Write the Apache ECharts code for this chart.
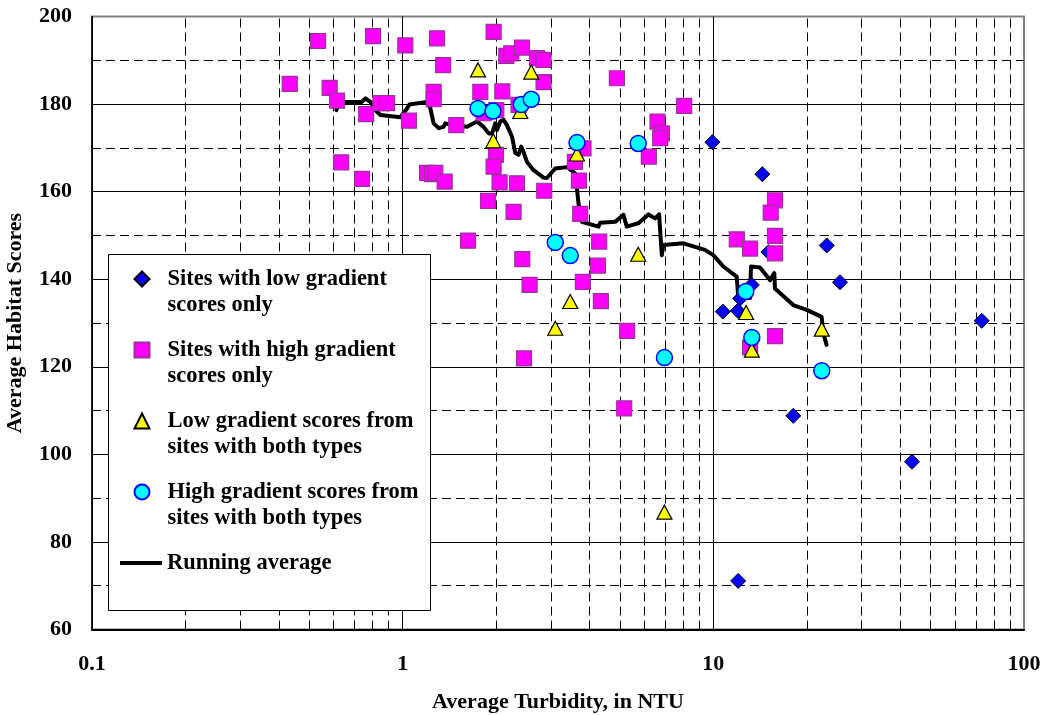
<!DOCTYPE html>
<html>
<head>
<meta charset="utf-8">
<script src="https://cdn.jsdelivr.net/npm/echarts@6/dist/echarts.min.js"></script>
<style>html,body{margin:0;padding:0;background:#fff}#c{width:1047px;height:715px}</style>
</head>
<body>
<div id="c"></div>
<script>
// ---- data ----
const seriesNames = [
  'Sites with low gradient scores only',
  'Sites with high gradient scores only',
  'Low gradient scores from sites with both types',
  'High gradient scores from sites with both types',
  'Running average'
];
const legendLines = [
  ['Sites with low gradient', 'scores only'],
  ['Sites with high gradient', 'scores only'],
  ['Low gradient scores from', 'sites with both types'],
  ['High gradient scores from', 'sites with both types'],
  ['Running average']
];

const lowOnlyX = [9.93, 14.38, 15.04, 23.18, 25.57, 13.3, 12.2, 10.73, 11.99, 73.1, 18.09, 43.6, 12.02];
const lowOnlyY = [171.3, 164.0, 146.2, 147.7, 139.3, 138.7, 135.6, 132.6, 132.8, 130.5, 108.8, 98.3, 71.1];

const highOnlyX = [0.534, 0.803, 1.02, 1.29, 1.35, 0.433, 0.582, 0.615, 0.763, 0.848, 0.891, 1.048, 1.258, 1.258,
  0.634, 0.740, 1.198, 1.243, 1.274, 1.365, 1.962, 2.156, 2.237, 2.421, 2.706, 2.841, 2.841, 4.893, 1.778, 2.093,
  1.488, 2.002, 1.822, 2.361, 8.057, 6.61, 6.83, 6.745, 6.20, 3.82, 3.585, 1.997, 1.962, 2.051, 2.333, 2.856, 3.693,
  1.883, 2.275, 3.729, 1.623, 4.292, 2.427, 4.25, 2.562, 3.803, 4.346, 5.28, 2.458, 5.166, 15.8, 15.3, 15.8, 11.9,
  13.13, 15.8, 15.8, 13.13];
const highOnlyY = [194.4, 195.5, 193.4, 195.0, 188.9, 184.6, 183.7, 180.8, 177.7, 180.2, 180.2, 176.2, 182.8, 181.1,
  166.7, 162.9, 164.3, 164.0, 164.3, 162.3, 196.5, 191.0, 191.6, 192.9, 190.5, 190.1, 185.0, 185.9, 182.8, 182.9,
  175.2, 178.6, 177.9, 179.8, 179.6, 176.0, 173.3, 172.2, 168.0, 169.9, 166.8, 168.4, 165.7, 162.1, 161.9, 160.2, 162.5,
  157.9, 155.4, 154.9, 148.8, 148.6, 144.6, 143.1, 138.7, 139.4, 135.0, 128.2, 121.9, 110.5, 158.0, 155.2, 149.9, 149.1,
  147.0, 145.9, 127.0, 124.4];

const bothLowX = [1.748, 2.594, 1.957, 2.391, 3.64, 5.73, 3.463, 3.099, 6.96, 12.75, 22.34, 13.3];
const bothLowY = [187.8, 187.3, 171.6, 178.3, 168.6, 145.7, 134.9, 128.8, 86.8, 132.4, 128.6, 123.8];

const bothHighX = [1.748, 1.953, 2.409, 2.594, 3.64, 5.73, 3.099, 3.463, 6.96, 12.72, 13.3, 22.34];
const bothHighY = [179.0, 178.4, 179.9, 181.1, 171.2, 171.0, 148.4, 145.4, 122.1, 137.2, 126.7, 119.1];

const runX = [0.612, 0.6235, 0.737, 0.759, 0.787, 0.823, 0.848, 0.983, 1.033, 1.051, 1.198, 1.228, 1.258, 1.306,
  1.354, 1.372, 1.441, 1.611, 1.735, 1.822, 1.891, 1.939, 1.987, 2.012, 2.062, 2.113, 2.166, 2.248, 2.304, 2.360,
  2.408, 2.449, 2.512, 2.638, 2.841, 2.913, 3.097, 3.378, 3.592, 3.638, 3.681, 3.775, 4.268, 4.322, 4.83, 5.135,
  5.266, 5.741, 6.18, 6.495, 6.69, 6.826, 6.907, 8.01, 9.40, 10.0, 10.77, 11.89, 12.03, 13.12, 13.22, 14.13, 15.22,
  15.71, 15.79, 18.08, 19.97, 22.32, 22.58, 23.15];
const runY = [178.6, 180.5, 180.5, 181.3, 180.5, 178.4, 177.5, 177.0, 179.0, 179.9, 180.5, 179.0, 175.6, 174.5,
  174.8, 175.6, 175.2, 174.8, 176.0, 174.8, 173.3, 173.3, 175.6, 174.1, 176.0, 176.4, 175.2, 172.6, 168.8, 168.4,
  170.3, 169.1, 166.8, 164.9, 163.2, 163.1, 165.3, 165.6, 164.2, 160.8, 157.3, 153.1, 152.0, 152.9, 153.1, 154.7,
  152.0, 152.8, 154.8, 153.9, 154.8, 145.5, 147.8, 148.2, 146.7, 145.5, 142.9, 140.6, 135.9, 135.7, 142.9, 142.7, 139.8,
  141.4, 137.9, 134.1, 133.0, 131.4, 127.7, 125.0];

const minorX = [0.2, 0.3, 0.4, 0.5, 0.6, 0.7, 0.8, 0.9, 2, 3, 4, 5, 6, 7, 8, 9, 20, 30, 40, 50, 60, 70, 80, 90];

// ---- chart ----
const pairs = (xs, ys) => xs.map((x, i) => [x, ys[i]]);
const FONT = 'Liberation Serif';
const chart = echarts.init(document.getElementById('c'), null, {renderer: 'canvas'});
const labelStyle = {color: '#000', fontFamily: FONT, fontWeight: 'bold', fontSize: 22};
const legendText = {color: '#000', fontFamily: FONT, fontWeight: 'bold', fontSize: 22.5, lineHeight: 26};

chart.setOption({
  animation: false,
  backgroundColor: '#fff',
  textStyle: {fontFamily: FONT},
  grid: {left: 92, right: 23, top: 16.5, bottom: 85.5, containLabel: false, outerBoundsMode: 'none',
    show: true, borderColor: '#808080', borderWidth: 2, backgroundColor: 'transparent'},
  xAxis: {
    type: 'log', logBase: 10, min: 0.1, max: 100,
    name: 'Average Turbidity, in NTU', nameLocation: 'middle', nameGap: 62,
    nameTextStyle: labelStyle,
    axisLine: {show: true, onZero: false, lineStyle: {color: '#000', width: 2}},
    axisTick: {show: false},
    axisLabel: Object.assign({margin: 24}, labelStyle),
    splitLine: {show: true, lineStyle: {color: ['#000', '#000', '#000', '#808080'], width: 1}}
  },
  yAxis: {
    type: 'value', min: 60, max: 200, interval: 20,
    name: 'Average Habitat Scores', nameLocation: 'middle', nameGap: 66,
    nameTextStyle: labelStyle,
    axisLine: {show: true, lineStyle: {color: '#000', width: 1.5}},
    axisTick: {show: false},
    axisLabel: Object.assign({margin: 20}, labelStyle),
    splitLine: {show: true, lineStyle: {color: ['#000', '#000', '#000', '#000', '#000', '#000', '#000', '#808080'], width: 1}},
    minorTick: {show: false, splitNumber: 2},
    minorSplitLine: {show: true, lineStyle: {color: '#000', width: 1, type: [9, 5]}}
  },
  legend: [
    {
      data: seriesNames.slice(0, 4), orient: 'vertical', left: 133.5, top: 240, padding: 0,
      itemGap: -7, itemWidth: 15, itemHeight: 15, selectedMode: false, z: 60,
      textStyle: Object.assign({padding: [0, 0, 0, 13]}, legendText),
      formatter: function (name) {
        const l = legendLines[seriesNames.indexOf(name)];
        return '\u00a0\n' + l[0] + '\n' + l[1];
      }
    },
    {
      data: [{name: seriesNames[4], icon: 'rect'}], orient: 'vertical', left: 120, top: 550, padding: 0,
      itemWidth: 42, itemHeight: 4, selectedMode: false, z: 60,
      lineStyle: {width: 4, color: '#000'},
      textStyle: legendText,
      formatter: function (name) {
        return legendLines[seriesNames.indexOf(name)][0];
      }
    }
  ],
  graphic: {elements: [{
    type: 'rect', z: 50, silent: true,
    shape: {x: 108.5, y: 254.5, width: 322, height: 356},
    style: {fill: '#fff', stroke: '#000', lineWidth: 1}
  }]},
  series: [
    {
      type: 'scatter', data: [], silent: true, z: 1,
      markLine: {
        z: 1, silent: true, symbol: ['none', 'none'], label: {show: false}, animation: false,
        lineStyle: {color: '#000', width: 1, type: [9, 5]},
        emphasis: {disabled: true},
        data: minorX.map(v => ({xAxis: v}))
      }
    },
    {
      name: seriesNames[4], type: 'line', data: pairs(runX, runY), symbol: 'none', z: 2, silent: true,
      lineStyle: {color: '#000', width: 4, join: 'round', cap: 'round'}, itemStyle: {color: '#000'}
    },
    {
      name: seriesNames[0], type: 'scatter', symbol: 'diamond', symbolSize: 15, z: 3,
      data: pairs(lowOnlyX, lowOnlyY),
      itemStyle: {color: '#0000ff', borderColor: '#000', borderWidth: 1, opacity: 1}
    },
    {
      name: seriesNames[1], type: 'scatter', symbol: 'rect', symbolSize: 15, z: 4,
      data: pairs(highOnlyX, highOnlyY),
      itemStyle: {color: '#ff00ff', borderColor: '#993399', borderWidth: 1.2, opacity: 1}
    },
    {
      name: seriesNames[2], type: 'scatter', symbol: 'triangle', symbolSize: [15, 14], z: 5,
      data: pairs(bothLowX, bothLowY),
      itemStyle: {color: '#ffff00', borderColor: '#000', borderWidth: 1.2, opacity: 1}
    },
    {
      name: seriesNames[3], type: 'scatter', symbol: 'circle', symbolSize: 16, z: 6,
      data: pairs(bothHighX, bothHighY),
      itemStyle: {color: '#00ffff', borderColor: '#0000ff', borderWidth: 1.5, opacity: 1}
    }
  ]
});
</script>
</body>
</html>
